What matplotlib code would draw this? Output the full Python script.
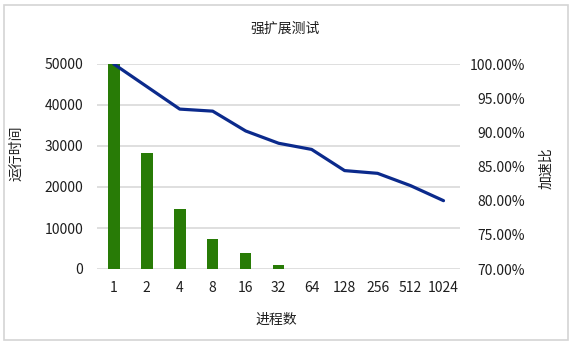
import matplotlib
matplotlib.use("Agg")
import matplotlib.pyplot as plt
from matplotlib.patches import Rectangle
from matplotlib.ticker import FuncFormatter

plt.rcParams['font.family'] = ['Noto Sans CJK SC', 'DejaVu Sans']

# data
procs = ['1', '2', '4', '8', '16', '32', '64', '128', '256', '512', '1024']
run_time = [50000, 28400, 14550, 7250, 3800, 900, 0, 0, 0, 0, 0]
speedup = [100.0, 96.7, 93.4, 93.1, 90.2, 88.4, 87.5, 84.4, 84.0, 82.2, 80.0]

bar_color = '#287b06'
line_color = '#0b2a8c'
grid_color = '#d9d9d9'
text_color = '#1e1e1e'

W, H = 571, 344
fig = plt.figure(figsize=(W / 100, H / 100), dpi=100)
ax = fig.add_axes([97.3 / W, 1 - 269 / H, (460 - 97.3) / W, (269 - 64) / H])

x = list(range(len(procs)))
ax.bar(x, run_time, width=0.35, color=bar_color, zorder=2)
ax.set_xlim(-0.5, len(procs) - 0.5)
ax.set_ylim(0, 50000)
ax.set_yticks(range(0, 50001, 10000))
ax.set_xticks(x)
ax.set_xticklabels(procs)
ax.yaxis.grid(True, color=grid_color, linewidth=1.2, zorder=0)
ax.set_axisbelow(True)
for s in ax.spines.values():
    s.set_visible(False)
ax.tick_params(axis='both', length=0, labelsize=10, colors=text_color)
ax.tick_params(axis='y', pad=10)
ax.tick_params(axis='x', pad=9)

ax2 = ax.twinx()
ax2.plot(x, speedup, color=line_color, linewidth=2.3, zorder=3, solid_capstyle='round')
ax2.set_ylim(70, 100)
ax2.set_yticks(range(70, 101, 5))
ax2.yaxis.set_major_formatter(FuncFormatter(lambda v, p: f'{v:.2f}%'))
for s in ax2.spines.values():
    s.set_visible(False)
ax2.tick_params(axis='y', length=0, labelsize=10, colors=text_color, pad=47)
for lbl in ax2.get_yticklabels():
    lbl.set_horizontalalignment('right')

fig.text(0.5, 1 - 29 / H, '强扩展测试', ha='center', va='center', fontsize=10, color=text_color)
fig.text(16.7 / W, 1 - 153.5 / H, '运行时间', ha='center', va='center', rotation=90, fontsize=10, color=text_color)
fig.text(546 / W, 1 - 168 / H, '加速比', ha='center', va='center', rotation=90, fontsize=10, color=text_color)
fig.text(276 / W, 1 - 319.5 / H, '进程数', ha='center', va='center', fontsize=10, color=text_color)

# light frame around the chart
fig.patches.append(Rectangle((3.5 / W, 4 / H), 564 / W, 335 / H, transform=fig.transFigure,
                             fill=False, edgecolor='#d4d4d4', linewidth=1.2))

fig.savefig('out.png', dpi=100)
